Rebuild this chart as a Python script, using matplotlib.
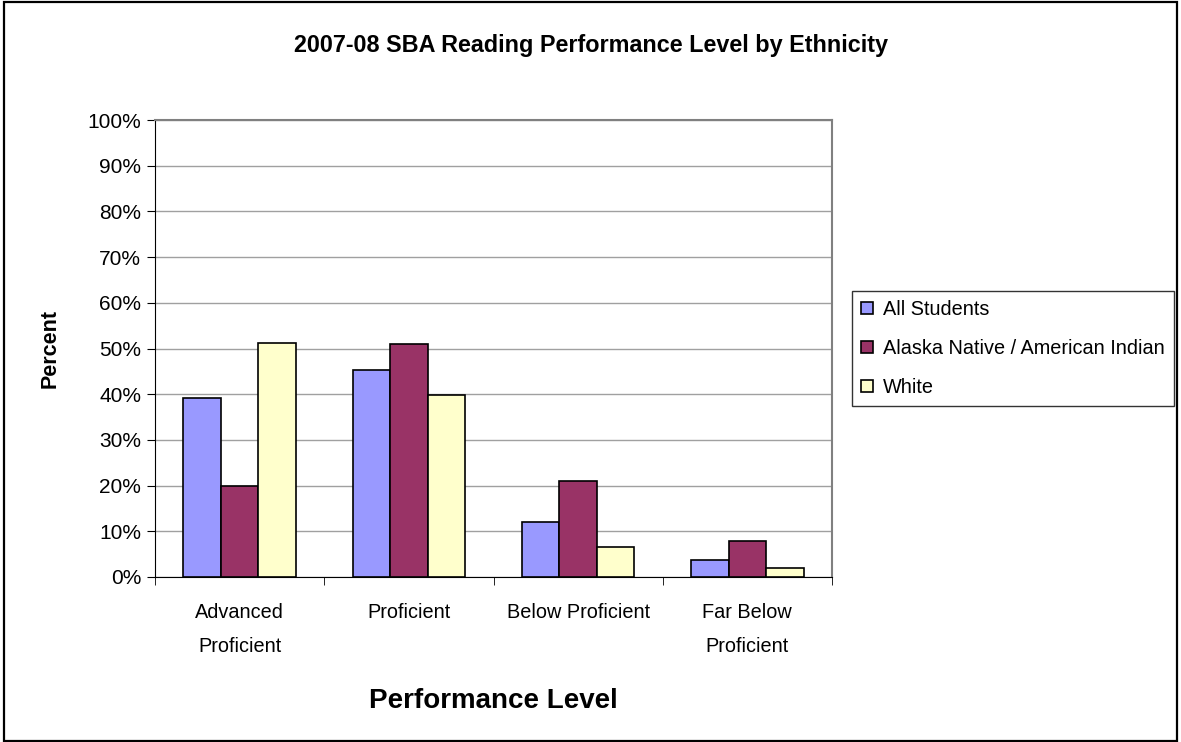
import matplotlib.pyplot as plt
import numpy as np
from matplotlib.patches import Rectangle

categories = ['Advanced\nProficient', 'Proficient', 'Below Proficient', 'Far Below\nProficient']
series = ['All Students', 'Alaska Native / American Indian', 'White']
all_students = [39.2, 45.2, 12.0, 3.8]
native = [20.0, 50.9, 20.9, 7.9]
white = [51.2, 39.8, 6.6, 1.9]
colors = ['#9999FF', '#993366', '#FFFFCC']

plt.rcParams['font.family'] = ['Liberation Sans', 'DejaVu Sans']

fig = plt.figure(figsize=(11.81, 7.42), dpi=100)
fig.patches.append(Rectangle((0.003, 0.002), 0.994, 0.995, transform=fig.transFigure,
                             fill=False, edgecolor='black', linewidth=1.6))
ax = fig.add_axes([155 / 1181, 165 / 742, 677 / 1181, 457 / 742])

x = np.arange(len(categories))
w = 0.222
for i, vals in enumerate([all_students, native, white]):
    ax.bar(x + (i - 1) * w, vals, width=w, color=colors[i], edgecolor='black',
           linewidth=1.2, label=series[i], zorder=3)

ax.set_xlim(-0.5, 3.5)
ax.set_ylim(0, 100)
ax.set_yticks(np.arange(0, 101, 10))
ax.set_yticklabels([f'{v}%' for v in range(0, 101, 10)], fontsize=15)
ax.yaxis.grid(True, color='#a0a0a0', linewidth=1, zorder=0)
ax.set_xticks(x)
ax.set_xticklabels(categories, fontsize=14.3, linespacing=2.0)
ax.set_xticks(np.arange(-0.5, 3.6, 1), minor=True)
ax.tick_params(axis='x', which='major', length=0, pad=19)
ax.tick_params(axis='x', which='minor', length=6, direction='out', color='black')
ax.tick_params(axis='y', length=6, direction='out', pad=4)

for s in ['top', 'right']:
    ax.spines[s].set_color('#808080')
    ax.spines[s].set_linewidth(1.5)
ax.spines['left'].set_color('black')
ax.spines['bottom'].set_color('black')

ax.set_ylabel('Percent', fontsize=15.5, fontweight='bold', labelpad=19)
ax.set_xlabel('Performance Level', fontsize=20, fontweight='bold', labelpad=23)
fig.text(0.5, 0.939, '2007-08 SBA Reading Performance Level by Ethnicity', ha='center',
         va='center', fontsize=16.8, fontweight='bold')

leg = ax.legend(loc='center left', bbox_to_anchor=(1.03, 0.5), fontsize=14.3, frameon=True,
                fancybox=False, edgecolor='black', handlelength=0.6, handleheight=0.6,
                handletextpad=0.5, labelspacing=1.0, borderpad=0.45, borderaxespad=0)
leg.get_frame().set_linewidth(1)

fig.savefig('out.png', dpi=100)
